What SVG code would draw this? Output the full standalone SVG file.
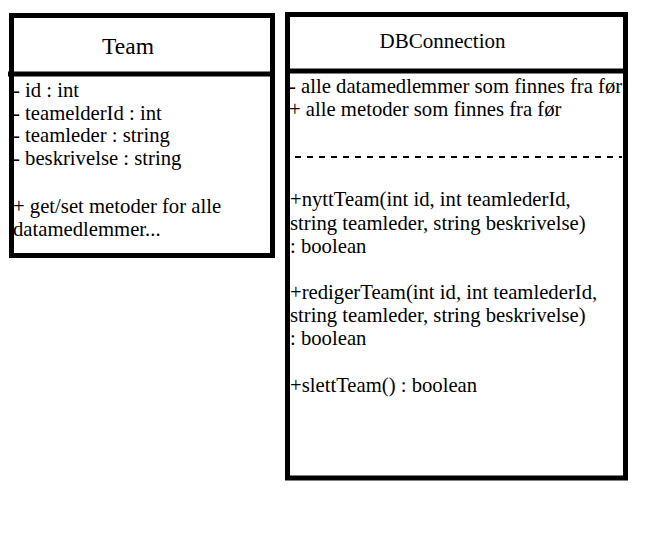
<svg xmlns="http://www.w3.org/2000/svg" width="648" height="557" viewBox="0 0 648 557">
<style>
.box{fill:#fff;stroke:#000;stroke-width:5}
.div{stroke:#000;stroke-width:5}
.dash{stroke:#000;stroke-width:2;stroke-dasharray:6 6}
text{font-family:"Liberation Serif","Times New Roman",serif;fill:#000}
.title{font-size:21px;text-anchor:middle}
.body{font-size:20.7px}
</style>
<rect width="648" height="557" fill="#fff"/>
<g id="team">
<rect class="box" x="11.5" y="15.5" width="261" height="240"/>
<line class="div" x1="8" y1="74" x2="272" y2="74"/>
<text class="title" x="128" y="54" style="font-size:23.5px">Team</text>
<text class="body" x="13" y="97">- id : int</text>
<text class="body" x="13" y="119.5">- teamelderId : int</text>
<text class="body" x="13" y="142">- teamleder : string</text>
<text class="body" x="13" y="165">- beskrivelse : string</text>
<text class="body" x="13" y="213">+ get/set metoder for alle</text>
<text class="body" x="13" y="235.5">datamedlemmer...</text>
</g>
<g id="dbconnection">
<rect class="box" x="287.5" y="14.5" width="338" height="463.5"/>
<line class="div" x1="287.5" y1="71" x2="625.5" y2="71"/>
<text class="title" x="442.5" y="48">DBConnection</text>
<text class="body" x="289" y="93">- alle datamedlemmer som finnes fra før</text>
<text class="body" x="289" y="115.5">+ alle metoder som finnes fra før</text>
<line class="dash" x1="295" y1="157" x2="622" y2="157"/>
<text class="body" x="290" y="206">+nyttTeam(int id, int teamlederId,</text>
<text class="body" x="290" y="229.5">string teamleder, string beskrivelse)</text>
<text class="body" x="290" y="253">: boolean</text>
<text class="body" x="290" y="298.5">+redigerTeam(int id, int teamlederId,</text>
<text class="body" x="290" y="322">string teamleder, string beskrivelse)</text>
<text class="body" x="290" y="345">: boolean</text>
<text class="body" x="290" y="392">+slettTeam() : boolean</text>
</g>
<g id="connectors"></g>
</svg>
